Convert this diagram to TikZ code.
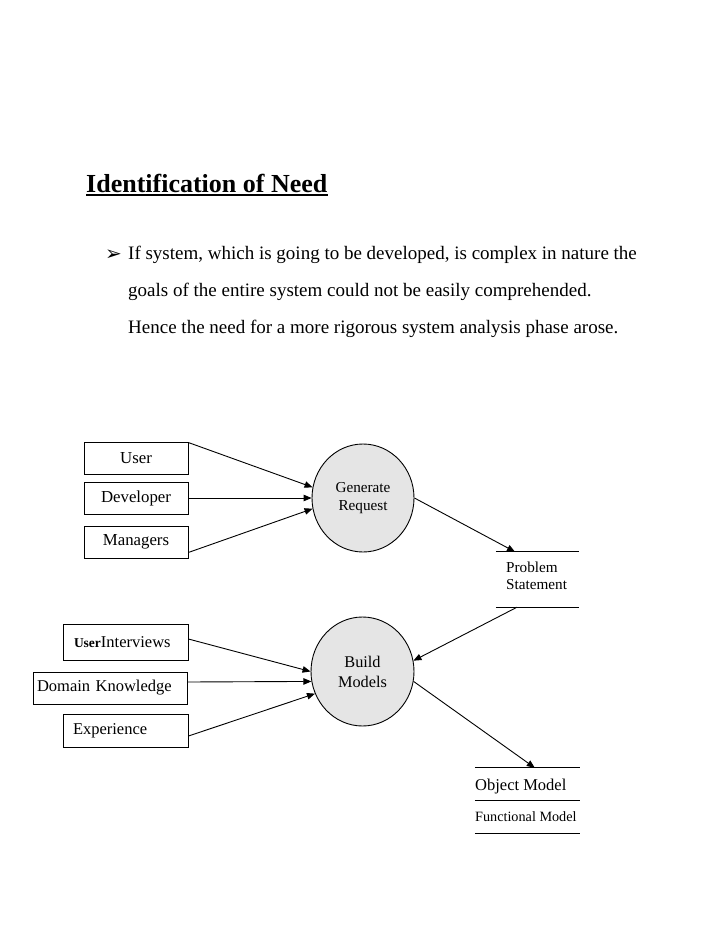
\documentclass[tikz,border=0pt]{standalone}
\usepackage{fontspec}
\setmainfont{Liberation Serif}
\newfontfamily\symfont{DejaVu Sans}
\usetikzlibrary{arrows.meta,shapes.geometric,calc}
\begin{document}
\begin{tikzpicture}[x=1pt,y=-1pt,
 box/.style={draw,line width=0.9pt,minimum width=104pt,minimum height=32pt,inner sep=0pt,font=\fontsize{16.8}{19}\selectfont},
 lbox/.style={draw,line width=0.9pt,minimum height=33pt,inner ysep=0pt,align=left,font=\fontsize{16.5}{19}\selectfont},
 proc/.style={draw,line width=0.9pt,ellipse,fill=black!10,minimum width=102pt,minimum height=108pt,inner sep=0pt,align=center},
 arr/.style={line width=0.9pt,-{Triangle[length=8pt,width=6.5pt]}},
 rule/.style={line width=0.9pt},
 store/.style={inner sep=0pt},
 txt/.style={inner sep=0pt,anchor=base west}]
\useasboundingbox (0,0) rectangle (728,943);
% title
\node[txt,font=\fontsize{26}{30}\selectfont\bfseries] (title) at (86,192) {Identification of Need};
\draw[line width=2pt] ([yshift=-2.5pt]title.base west) -- ([yshift=-2.5pt]title.base east);
% bullet text
\node[txt,font=\symfont\fontsize{20}{22}\selectfont] (bul) at (105,260) {➢};
\node[txt,font=\fontsize{19}{22}\selectfont] (l1) at (128,259) {If system, which is going to be developed, is complex in nature the};
\node[txt,font=\fontsize{19}{22}\selectfont] (l2) at (128,296) {goals of the entire system could not be easily comprehended.};
\node[txt,font=\fontsize{19}{22}\selectfont] (l3) at (128,333) {Hence the need for a more rigorous system analysis phase arose.};
% upper sources
\node[box] (user) at (136,458) {User};
\node[box] (dev) at (136,498) {Developer};
\node[box] (mgr) at (136,542) {Managers};
% generate request
\node[proc,font=\fontsize{15.2}{18}\selectfont] (gen) at (363,498) {Generate\\Request};
% problem statement
\node[store,minimum width=83pt,minimum height=55pt] (ps) at (537.5,579.5) {};
\node[inner sep=0pt,anchor=west,align=left,font=\fontsize{15.2}{17}\selectfont] (pst) at (506,575.5) {Problem\\Statement};
\draw[rule] (ps.north west) -- (ps.north east);
\draw[rule] (ps.south west) -- (ps.south east);
% lower sources
\node[lbox,inner xsep=11pt,text width=103pt,minimum height=36pt] (ui) at (125.5,642) {{\fontsize{13.5}{16}\selectfont\bfseries User}Interviews};
\node[lbox,inner xsep=4pt,text width=146pt,minimum height=32pt] (dk) at (110,688) {Domain Knowledge};
\node[lbox,inner xsep=10pt,text width=105pt] (exp) at (125.5,730.5) {Experience};
% build models
\node[proc,font=\fontsize{16.3}{20}\selectfont,minimum width=103pt,minimum height=109pt] (build) at (362.5,671.5) {Build\\Models};
% object model store
\node[store,minimum width=105pt,minimum height=65pt] (om) at (527.5,800.5) {};
\node[txt,font=\fontsize{16.5}{19}\selectfont] (omt) at (475,790) {Object Model};
\node[txt,font=\fontsize{14.2}{17}\selectfont] (fmt) at (475,821.5) {Functional Model};
\draw[rule] (om.north west) -- (om.north east);
\draw[rule] (om.west) -- (om.east);
\draw[rule] (om.south west) -- (om.south east);
% arrows
\draw[arr] ([yshift=-1pt]user.north east) -- (gen.168);
\draw[arr] (dev.east) -- (gen.180);
\draw[arr] ([yshift=6pt]mgr.south east) -- (gen.192);
\draw[arr] (gen.east) -- ([xshift=-22.5pt]ps.north);
\draw[arr] ([xshift=-20.5pt]ps.south) -- (build.12);
\draw[arr] ([yshift=3pt]ui.east) -- (build.180);
\draw[arr] ([yshift=6pt]dk.east) -- (build.191);
\draw[arr] ([yshift=-5.5pt]exp.east) -- (build.205);
\draw[arr] (build.-11) -- ([xshift=60pt]om.north west);
\end{tikzpicture}
\end{document}
